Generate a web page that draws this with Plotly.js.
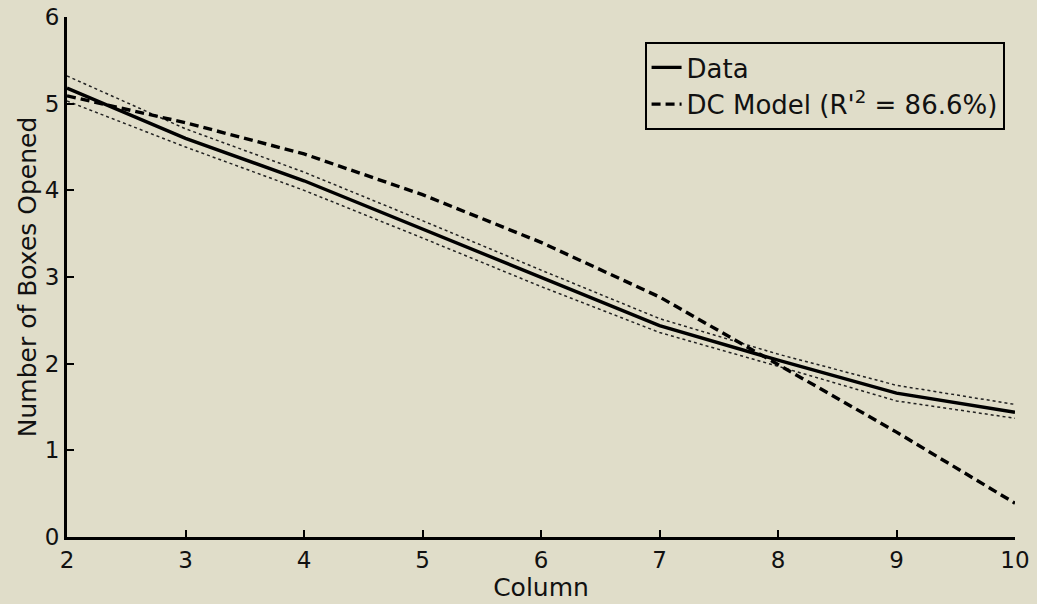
<!DOCTYPE html>
<html>
<head>
<meta charset="utf-8">
<script src="https://cdn.plot.ly/plotly-3.0.1.min.js"></script>
<style>html,body{margin:0;padding:0;background:#e0ddc9;}</style>
</head>
<body>
<div id="chart" style="width:1037px;height:604px;"></div>
<script>
const columns = [2, 3, 4, 5, 6, 7, 8, 9, 10];
const dataMean = [5.18, 4.60, 4.11, 3.55, 2.99, 2.44, 2.04, 1.66, 1.44];
const dataUpper = [5.32, 4.71, 4.21, 3.65, 3.08, 2.52, 2.11, 1.75, 1.53];
const dataLower = [5.03, 4.50, 4.00, 3.45, 2.89, 2.36, 1.97, 1.57, 1.37];
const dcModel = [5.09, 4.78, 4.42, 3.95, 3.40, 2.77, 1.99, 1.21, 0.39];
const yTicks = [0, 1, 2, 3, 4, 5, 6];

const bg = '#e0ddc9';
const fam = 'DejaVu Sans, Liberation Sans, Arial, sans-serif';

const traces = [
  {x: columns, y: dataUpper, mode: 'lines', showlegend: false, hoverinfo: 'skip',
   line: {color: '#222', width: 1.5, dash: 'dot'}},
  {x: columns, y: dataLower, mode: 'lines', showlegend: false, hoverinfo: 'skip',
   line: {color: '#222', width: 1.5, dash: 'dot'}},
  {x: columns, y: dataMean, mode: 'lines', name: 'Data',
   line: {color: '#000', width: 3.4}},
  {x: columns, y: dcModel, mode: 'lines', name: "DC Model (R'<sup>2</sup> = 86.6%)",
   line: {color: '#000', width: 3.4, dash: '9px,5px'}}
];

const layout = {
  width: 1037, height: 604,
  paper_bgcolor: bg, plot_bgcolor: bg,
  font: {family: fam, color: '#111', size: 23},
  margin: {l: 67, r: 22, t: 17, b: 67},
  showlegend: true,
  legend: {x: 0.989, y: 0.952, xanchor: 'right', yanchor: 'top',
    bgcolor: bg, bordercolor: '#000', borderwidth: 2,
    font: {family: fam, size: 26, color: '#111'}, tracegroupgap: 0},
  xaxis: {range: [2, 10], tickvals: columns, ticks: 'inside', ticklen: 7, tickwidth: 2,
    tickcolor: '#000', showline: true, linecolor: '#000', linewidth: 3, showgrid: false,
    zeroline: false, tickfont: {family: fam, size: 23}, ticklabelstandoff: 0,
    title: {text: 'Column', font: {family: fam, size: 25}, standoff: 0}},
  yaxis: {range: [0, 6], tickvals: yTicks, ticks: 'inside', ticklen: 7, tickwidth: 2,
    tickcolor: '#000', showline: true, linecolor: '#000', linewidth: 3, showgrid: false,
    zeroline: false, tickfont: {family: fam, size: 23}, ticklabelstandoff: 0,
    title: {text: 'Number of Boxes Opened', font: {family: fam, size: 25}, standoff: 2}}
};

Plotly.newPlot('chart', traces, layout, {displayModeBar: false, staticPlot: true});
</script>
</body>
</html>
